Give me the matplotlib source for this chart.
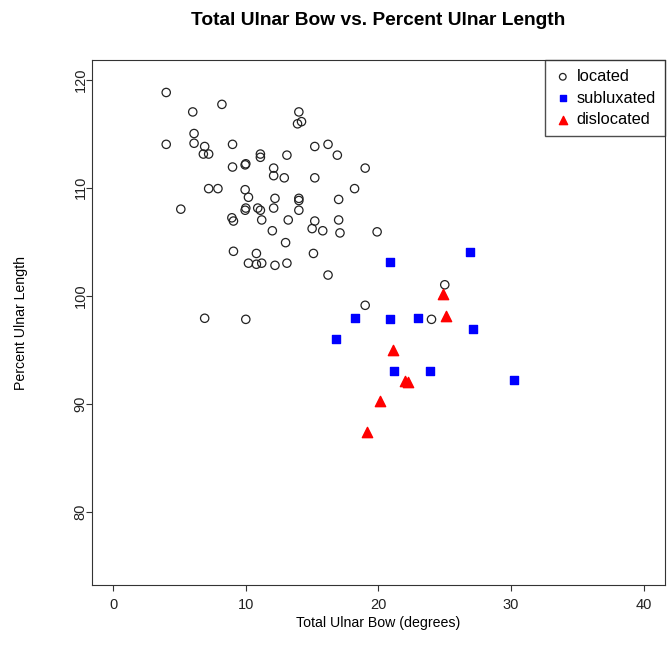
import matplotlib
matplotlib.use("Agg")
import matplotlib.pyplot as plt

plt.rcParams['font.family'] = ['Liberation Sans', 'DejaVu Sans']

# located (open circles)
loc_x = [4.0, 6.0, 8.2, 6.1, 6.1, 4.0, 6.9, 6.8, 7.2, 9.0, 9.0, 9.95, 10.0,
         11.1, 11.1, 14.0, 13.9, 14.2, 13.1, 15.2, 16.2, 16.9, 12.1, 12.1,
         12.9, 15.2, 19.0, 18.2, 12.2, 14.0, 14.0, 17.0, 10.9, 11.1, 12.1,
         14.0, 11.2, 13.2, 15.2, 17.0, 12.0, 15.0, 15.8, 17.1, 19.9, 13.0,
         10.8, 15.1, 10.8, 11.2, 12.2, 13.1, 16.2, 7.2, 7.9, 9.95, 10.2, 5.1,
         10.0, 9.95, 8.95, 9.07, 9.07, 10.2, 6.9, 10.0, 19.0, 25.0, 24.0]
loc_y = [118.8, 117.0, 117.7, 115.0, 114.1, 114.0, 113.8, 113.1, 113.1, 114.0,
         111.9, 112.1, 112.2, 113.1, 112.8, 117.0, 115.9, 116.1, 113.0, 113.8,
         114.0, 113.0, 111.8, 111.1, 110.9, 110.9, 111.8, 109.9, 109.0, 109.0,
         108.8, 108.9, 108.1, 107.9, 108.1, 107.9, 107.0, 107.0, 106.9, 107.0,
         106.0, 106.2, 106.0, 105.8, 105.9, 104.9, 103.9, 103.9, 102.9, 103.0,
         102.8, 103.0, 101.9, 109.9, 109.9, 109.8, 109.1, 108.0, 108.1, 107.9,
         107.2, 106.9, 104.1, 103.0, 97.9, 97.8, 99.1, 101.0, 97.8]

# subluxated (blue squares)
sub_x = [26.9, 20.9, 18.2, 20.9, 23.0, 27.1, 16.8, 21.2, 23.9, 30.2]
sub_y = [104.0, 103.1, 97.9, 97.8, 97.9, 96.9, 96.0, 93.0, 93.0, 92.2]

# dislocated (red triangles)
dis_x = [24.9, 25.1, 21.1, 22.0, 22.2, 20.1, 19.1]
dis_y = [100.1, 98.1, 95.0, 92.1, 92.0, 90.2, 87.4]

fig = plt.figure(figsize=(6.71, 6.53), dpi=100)
ax = fig.add_axes([0.137, 0.104, 0.854, 0.804])

ax.scatter(loc_x, loc_y, s=36, facecolors='none', edgecolors='#222222',
           linewidths=0.9, label='located')
ax.scatter(sub_x, sub_y, s=28, marker='s', color='#0000ff', label='subluxated')
ax.scatter(dis_x, dis_y, s=55, marker='^', color='#ff0000', label='dislocated')

ax.set_xlim(-1.6, 41.6)
ax.set_ylim(73.2, 121.8)
ax.set_xticks([0, 10, 20, 30, 40])
ax.set_yticks([80, 90, 100, 110, 120])
for lab in ax.get_yticklabels():
    lab.set_rotation(90)
    lab.set_va('center')
ax.tick_params(labelsize=10.5, direction='out', length=4, color='#333333',
               labelcolor='#222222')
ax.tick_params(axis='y', pad=-1)
ax.tick_params(axis='x', pad=5)
for sp in ax.spines.values():
    sp.set_color('#333333')

ax.set_title('Total Ulnar Bow vs. Percent Ulnar Length', fontsize=13.8,
             fontweight='bold', pad=25)
ax.set_xlabel('Total Ulnar Bow (degrees)', fontsize=10.2)
ax.set_ylabel('Percent Ulnar Length', fontsize=10.2)
ax.xaxis.set_label_coords(0.5, -0.058)
ax.yaxis.set_label_coords(-0.112, 0.5)

leg = ax.legend(loc='upper right', fontsize=11.8, frameon=True, fancybox=False,
                borderaxespad=0, handletextpad=0.3, labelspacing=0.4,
                handlelength=1.1, borderpad=0.55, markerscale=0.8)
leg.get_frame().set_edgecolor('#222222')
leg.get_frame().set_linewidth(1.0)

fig.savefig('out.png', dpi=100)
